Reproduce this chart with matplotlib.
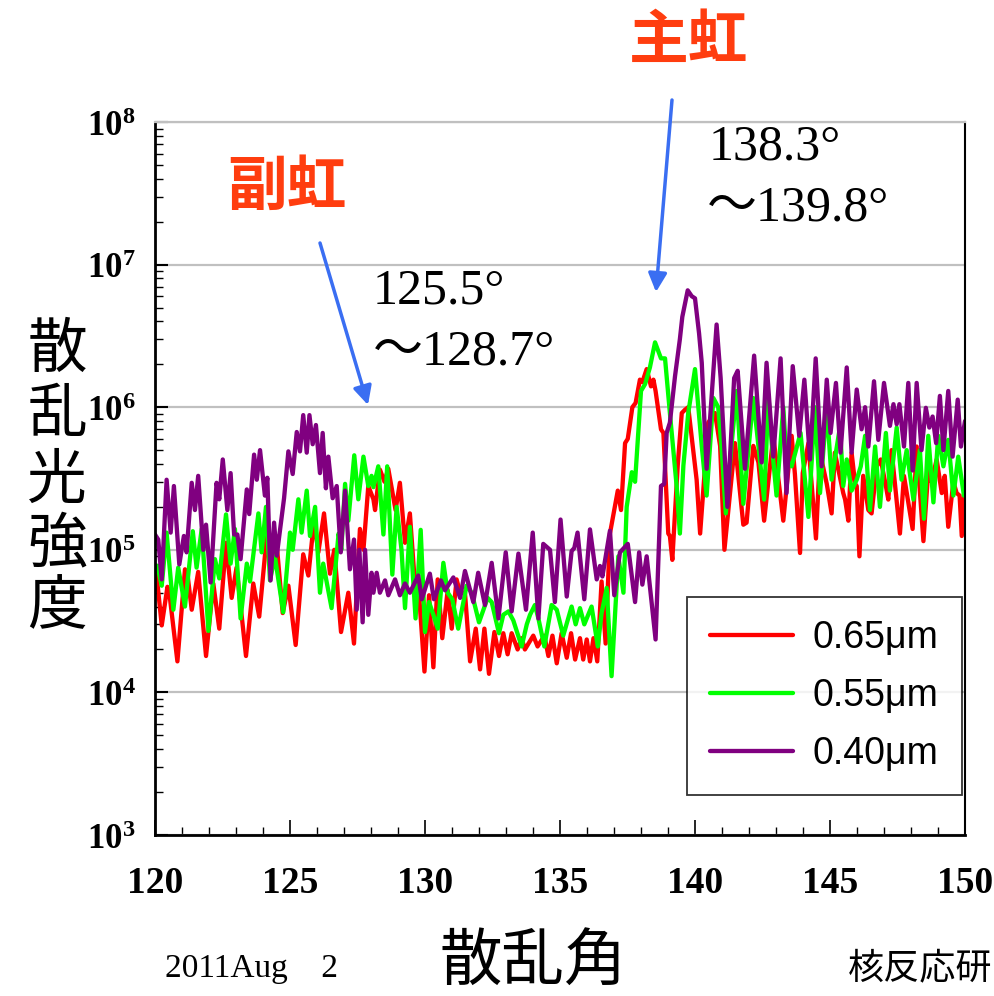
import matplotlib
matplotlib.use("Agg")
import matplotlib.pyplot as plt
from matplotlib.ticker import LogLocator, NullFormatter, MultipleLocator
from matplotlib.patches import FancyArrowPatch

plt.rcParams["mathtext.fontset"] = "custom"
plt.rcParams["mathtext.rm"] = "Liberation Serif"
plt.rcParams["mathtext.bf"] = "Liberation Serif:bold"

# ---- scattered intensity vs. scattering angle (deg) ----
angle_065 = [120.00, 120.06, 120.25, 120.46, 120.53, 120.83, 121.11, 121.20, 121.36, 121.60,
             121.89, 122.16, 122.38, 122.63, 122.84, 123.02, 123.37, 123.64, 123.86, 124.14,
             124.32, 124.48, 124.73, 124.94, 125.21, 125.49, 125.68, 125.89, 126.05, 126.26,
             126.48, 126.64, 126.89, 127.16, 127.37, 127.59, 127.72, 127.90, 128.09, 128.15,
             128.33, 128.50, 128.64, 128.91, 129.07, 129.26, 129.44, 129.63, 129.75, 129.98,
             130.15, 130.31, 130.47, 130.64, 130.84, 130.99, 131.17, 131.30, 131.48, 131.67,
             131.88, 132.04, 132.20, 132.37, 132.57, 132.74, 132.90, 133.06, 133.21, 133.43,
             133.58, 133.70, 134.01, 134.17, 134.42, 134.57, 134.72, 134.88, 135.06, 135.25,
             135.41, 135.56, 135.74, 135.86, 135.99, 136.11, 136.24, 136.38, 136.54, 136.69,
             136.85, 137.14, 137.26, 137.41, 137.51, 137.68, 137.80, 137.96, 138.05, 138.21,
             138.37, 138.46, 138.54, 138.74, 138.83, 139.01, 139.07, 139.16, 139.36, 139.51,
             139.63, 139.75, 140.06, 140.19, 140.49, 140.74, 140.93, 141.09, 141.48, 141.79,
             141.91, 142.16, 142.35, 142.56, 142.90, 143.27, 143.58, 143.70, 143.89, 143.99,
             144.20, 144.48, 144.63, 144.88, 145.06, 145.18, 145.49, 145.56, 145.68, 145.80,
             145.93, 145.99, 146.09, 146.23, 146.42, 146.54, 146.73, 146.88, 147.07, 147.16,
             147.28, 147.59, 147.74, 148.06, 148.21, 148.46, 148.64, 148.76, 148.95, 149.14,
             149.25, 149.38, 149.57, 149.69, 149.80, 149.88, 150.00]
inten_065 = [7.1e4, 6.6e4, 2.95e4, 5.5e4, 5.0e4, 1.65e4, 7.3e4, 6.8e4, 3.8e4, 7.0e4,
             1.8e4, 5.8e4, 2.8e4, 1.12e5, 4.6e4, 7.5e4, 1.8e4, 5.8e4, 3.4e4, 1.25e5,
             8.6e4, 1.25e5, 3.6e4, 5.6e4, 2.15e4, 9.3e4, 6.6e4, 1.6e5, 9.6e4, 1.8e5,
             6.8e4, 1.0e5, 2.65e4, 5.0e4, 2.2e4, 1.4e5, 1.0e5, 2.8e5, 2.26e5, 1.9e5,
             3.65e5, 3.0e5, 3.7e5, 1.9e5, 2.95e5, 1.12e5, 1.8e5, 5.6e4, 5.9e4, 1.4e4,
             4.8e4, 1.5e4, 6.2e4, 2.4e4, 5.2e4, 2.8e4, 6.2e4, 5.0e4, 5.0e4, 1.65e4,
             2.8e4, 1.45e4, 2.8e4, 1.35e4, 2.65e4, 1.8e4, 2.6e4, 1.85e4, 2.6e4, 2.0e4,
             2.4e4, 2.0e4, 2.5e4, 2.1e4, 2.5e4, 1.8e4, 2.5e4, 1.6e4, 2.6e4, 1.75e4,
             2.6e4, 1.7e4, 2.4e4, 1.7e4, 2.35e4, 1.65e4, 2.4e4, 1.65e4, 6.0e4, 2.2e4,
             1.3e5, 2.6e5, 1.9e5, 5.6e5, 6.0e5, 1.0e6, 1.07e6, 1.56e6, 1.5e6, 1.85e6,
             1.4e6, 1.56e6, 1.3e6, 7.0e5, 6.6e5, 1.3e5, 1.25e5, 8.5e4, 3.9e5, 9.1e5,
             9.6e5, 1.0e6, 3.1e5, 1.3e5, 7.8e5, 9.1e5, 5.35e5, 1.0e5, 5.6e5, 1.5e5,
             1.55e5, 5.35e5, 4.1e5, 1.6e5, 6.3e5, 1.6e5, 6.3e5, 3.4e5, 9.5e4, 3.45e5,
             5.6e5, 1.2e5, 4.8e5, 2.9e5, 1.8e5, 4.8e5, 2.5e5, 2.25e5, 1.6e5, 4.8e5,
             2.9e5, 2.8e5, 9.0e4, 3.3e5, 1.9e5, 1.8e5, 3.85e5, 4.3e5, 2.8e5, 2.25e5,
             5.0e5, 1.3e5, 3.3e5, 1.4e5, 5.3e5, 1.15e5, 3.6e5, 3.0e5, 4.3e5, 2.5e5,
             3.3e5, 1.45e5, 3.0e5, 2.5e5, 2.4e5, 1.25e5, 3.0e5]

angle_055 = [120.00, 120.09, 120.25, 120.43, 120.68, 120.86, 121.11, 121.40, 121.54, 121.73,
             121.98, 122.22, 122.38, 122.63, 122.80, 122.96, 123.17, 123.40, 123.52, 123.83,
             123.95, 124.11, 124.26, 124.44, 124.75, 125.00, 125.10, 125.31, 125.43, 125.62,
             125.74, 125.93, 126.11, 126.23, 126.54, 126.80, 126.90, 127.04, 127.16, 127.38,
             127.53, 127.72, 127.90, 128.02, 128.09, 128.27, 128.46, 128.60, 128.79, 128.95,
             129.13, 129.26, 129.44, 129.65, 129.84, 130.00, 130.15, 130.31, 130.47, 130.68,
             130.84, 131.01, 131.23, 131.54, 131.73, 132.00, 132.32, 132.47, 132.74, 132.90,
             133.09, 133.27, 133.58, 133.77, 133.89, 134.07, 134.20, 134.42, 134.69, 134.88,
             135.12, 135.43, 135.58, 135.74, 135.90, 136.17, 136.40, 136.54, 136.73, 136.91,
             137.16, 137.35, 137.47, 137.66, 137.78, 138.00, 138.15, 138.33, 138.52, 138.74,
             138.89, 139.07, 139.32, 139.44, 139.57, 139.75, 140.00, 140.25, 140.43, 140.68,
             140.86, 140.99, 141.14, 141.36, 141.54, 141.79, 142.16, 142.56, 142.72, 142.84,
             143.02, 143.27, 143.39, 143.58, 143.91, 144.20, 144.44, 144.63, 144.88, 145.06,
             145.37, 145.49, 145.62, 145.80, 145.99, 146.14, 146.30, 146.48, 146.67, 146.85,
             147.07, 147.22, 147.47, 147.65, 147.84, 148.09, 148.33, 148.48, 148.64, 148.83,
             149.01, 149.20, 149.38, 149.57, 149.75, 149.96, 150.00]
inten_055 = [7.3e4, 7.7e4, 5.6e4, 1.32e5, 3.8e4, 7.5e4, 4.0e4, 1.35e5, 7.5e4, 1.4e5,
             2.7e4, 8.6e4, 6.3e4, 1.77e5, 8.0e4, 1.4e5, 3.3e4, 8.0e4, 6.0e4, 1.8e5,
             9.6e4, 2.0e5, 6.1e4, 9.0e4, 3.65e4, 1.32e5, 1.0e5, 2.26e5, 1.32e5, 2.6e5,
             1.25e5, 2.0e5, 5.0e4, 8.0e4, 3.9e4, 1.3e5, 1.0e5, 2.9e5, 1.6e5, 4.6e5,
             2.26e5, 4.5e5, 2.8e5, 3.3e5, 2.75e5, 3.85e5, 1.28e5, 3.85e5, 6.7e4, 2.0e5,
             1.0e5, 3.9e4, 1.45e5, 3.3e4, 1.38e5, 2.65e4, 4.3e4, 3.5e4, 2.8e4, 8.1e4,
             5.0e4, 4.5e4, 2.8e4, 5.6e4, 5.0e4, 3.1e4, 4.6e4, 4.3e4, 2.6e4, 3.5e4,
             3.7e4, 3.2e4, 2.1e4, 3.0e4, 3.5e4, 4.1e4, 3.3e4, 2.1e4, 4.1e4, 3.8e4,
             2.5e4, 4.0e4, 3.0e4, 3.9e4, 3.0e4, 4.0e4, 2.1e4, 3.6e4, 5.4e4, 1.3e4,
             9.0e4, 5.0e4, 2.0e5, 3.5e5, 3.0e5, 1.3e6, 1.45e6, 1.9e6, 2.85e6, 2.2e6,
             2.2e6, 9.1e5, 2.8e5, 1.3e5, 3.9e5, 9.1e5, 1.85e6, 5.35e5, 2.4e5, 1.16e6,
             1.0e6, 5.0e5, 1.8e5, 5.6e5, 1.3e6, 2.1e5, 1.16e6, 2.25e5, 1.2e6, 5.6e5,
             2.4e5, 1.0e6, 4.3e5, 3.85e5, 6.6e5, 1.7e5, 1.0e6, 2.5e5, 1.0e6, 3.1e5,
             7.3e5, 2.8e5, 4.3e5, 2.6e5, 3.1e5, 3.85e5, 6.3e5, 1.9e5, 5.3e5, 2.0e5,
             6.6e5, 2.6e5, 7.2e5, 3.1e5, 5.0e5, 2.25e5, 5.0e5, 1.65e5, 6.3e5, 2.15e5,
             6.3e5, 3.85e5, 5.9e5, 2.4e5, 4.5e5, 2.4e5, 2.6e5]

angle_040 = [120.00, 120.12, 120.25, 120.43, 120.58, 120.70, 120.90, 121.07, 121.17, 121.36,
             121.48, 121.60, 121.79, 121.89, 122.06, 122.28, 122.38, 122.51, 122.68, 122.80,
             122.93, 123.05, 123.17, 123.40, 123.49, 123.67, 123.77, 123.89, 124.07, 124.16,
             124.28, 124.41, 124.51, 124.78, 124.94, 125.10, 125.25, 125.37, 125.49, 125.62,
             125.72, 125.84, 125.96, 126.11, 126.21, 126.33, 126.42, 126.58, 126.73, 126.88,
             127.04, 127.22, 127.37, 127.47, 127.57, 127.69, 127.78, 127.90, 128.02, 128.09,
             128.21, 128.33, 128.52, 128.64, 128.89, 129.07, 129.26, 129.44, 129.75, 129.88,
             130.18, 130.33, 130.59, 130.74, 131.05, 131.30, 131.48, 131.79, 131.97, 132.22,
             132.47, 132.72, 132.99, 133.21, 133.46, 133.74, 133.99, 134.20, 134.38, 134.63,
             134.81, 135.02, 135.25, 135.43, 135.53, 135.65, 135.90, 136.11, 136.36, 136.48,
             136.57, 136.85, 137.01, 137.22, 137.51, 137.78, 137.93, 138.05, 138.21, 138.54,
             138.74, 138.86, 138.95, 139.07, 139.26, 139.44, 139.53, 139.73, 139.88, 140.00,
             140.15, 140.25, 140.43, 140.80, 140.95, 141.20, 141.45, 141.58, 141.85, 142.19,
             142.47, 142.65, 142.90, 143.17, 143.39, 143.62, 143.86, 144.05, 144.26, 144.47,
             144.69, 144.88, 145.02, 145.22, 145.39, 145.62, 145.80, 145.99, 146.17, 146.30,
             146.42, 146.63, 146.79, 147.00, 147.22, 147.35, 147.47, 147.57, 147.74, 147.90,
             148.06, 148.21, 148.39, 148.55, 148.68, 148.80, 148.93, 149.07, 149.20, 149.38,
             149.54, 149.73, 149.85, 150.00]
inten_040 = [1.28e5, 1.18e5, 6.2e4, 3.1e5, 1.32e5, 2.8e5, 7.9e4, 1.25e5, 9.6e4, 2.95e5,
             1.9e5, 3.3e5, 1.0e5, 1.5e5, 5.9e4, 2.95e5, 2.26e5, 4.3e5, 1.9e5, 3.45e5,
             1.28e5, 1.28e5, 8.6e4, 2.65e5, 1.78e5, 4.65e5, 3.1e5, 5.0e5, 2.4e5, 3.2e5,
             6.1e4, 1.55e5, 9.1e4, 2.3e5, 4.9e5, 3.4e5, 6.7e5, 4.9e5, 8.8e5, 4.8e5,
             8.8e5, 5.5e5, 7.5e5, 3.45e5, 6.6e5, 2.7e5, 4.5e5, 2.3e5, 2.8e5, 9.6e4,
             2.6e5, 7.3e4, 1.18e5, 3.8e4, 1.0e5, 3.1e4, 1.0e5, 3.5e4, 6.9e4, 5.0e4,
             6.9e4, 5.0e4, 6.1e4, 4.8e4, 6.2e4, 4.8e4, 5.8e4, 5.0e4, 6.6e4, 4.5e4,
             6.8e4, 4.5e4, 6.1e4, 5.2e4, 6.4e4, 4.6e4, 7.1e4, 4.3e4, 6.9e4, 4.1e4,
             8.1e4, 3.3e4, 9.6e4, 3.7e4, 9.4e4, 3.8e4, 1.32e5, 3.3e4, 1.1e5, 1.0e5,
             4.3e4, 1.63e5, 4.7e4, 9.8e4, 1.03e5, 1.32e5, 4.5e4, 1.39e5, 6.2e4, 7.7e4,
             6.5e4, 1.36e5, 4.8e4, 9.6e4, 1.1e5, 4.3e4, 9.6e4, 5.7e4, 9.0e4, 2.35e4,
             2.8e5, 2.9e5, 6.6e5, 7.8e5, 1.65e6, 3.0e6, 4.3e6, 6.6e6, 6.0e6, 5.8e6,
             3.3e6, 2.05e6, 3.7e5, 3.8e6, 1.6e6, 2.0e5, 1.6e6, 1.8e6, 3.7e5, 2.3e6,
             4.1e5, 2.05e6, 4.5e5, 2.2e6, 2.5e5, 1.94e6, 6.3e5, 1.56e6, 4.3e5, 2.2e6,
             3.85e5, 1.56e6, 6.6e5, 1.48e6, 4.8e5, 1.9e6, 4.8e5, 1.33e6, 7.0e5, 1.0e6,
             5.3e5, 1.52e6, 5.9e5, 1.48e6, 7.4e5, 1.05e6, 7.6e5, 1.05e6, 5.3e5, 1.48e6,
             3.6e5, 1.48e6, 5.0e5, 9.9e5, 7.2e5, 8.6e5, 5.6e5, 1.2e6, 5.0e5, 1.3e6,
             4.5e5, 1.13e6, 5.3e5, 8.0e5]

series_labels = ["0.65\u03bcm", "0.55\u03bcm", "0.40\u03bcm"]
series_colors = ["#FF0000", "#00FF00", "#800080"]

x_ticks = [120, 125, 130, 135, 140, 145, 150]
y_ticks = [1e3, 1e4, 1e5, 1e6, 1e7, 1e8]
y_tick_labels = [r"$\mathbf{10^{%d}}$" % e for e in range(3, 9)]

W, H = 994, 996


def fx(px):
    return px / W


def fy(py):
    return 1 - py / H


fig = plt.figure(figsize=(W / 100, H / 100), dpi=100)
ax = fig.add_axes([fx(155), fy(835), (965 - 155) / W, (835 - 122) / H])

for ang, val, col, lab in zip([angle_065, angle_055, angle_040],
                              [inten_065, inten_055, inten_040],
                              series_colors, series_labels):
    ax.plot(ang, val, color=col, lw=3.1, label=lab,
            solid_joinstyle="round", solid_capstyle="round")

ax.set_yscale("log")
ax.set_xlim(120, 150)
ax.set_ylim(1e3, 1e8)

ax.set_xticks(x_ticks)
ax.set_xticklabels([str(t) for t in x_ticks], fontfamily="Liberation Serif",
                   fontweight="bold", fontsize=27)
ax.xaxis.set_minor_locator(MultipleLocator(1))
ax.set_yticks(y_ticks)
ax.set_yticklabels(y_tick_labels, fontsize=25)
ax.yaxis.set_minor_locator(LogLocator(base=10, subs=range(2, 10), numticks=20))
ax.yaxis.set_minor_formatter(NullFormatter())

ax.tick_params(axis="x", which="major", direction="in", length=11, width=1.2,
               pad=22, top=False)
ax.tick_params(axis="x", which="minor", direction="in", length=6, width=1.0, top=False)
ax.tick_params(axis="y", which="major", direction="in", length=9, width=1.5,
               pad=14, right=False)
ax.tick_params(axis="y", which="minor", direction="in", length=6, width=1.0, right=False)

ax.grid(True, which="major", axis="y", color="#C0C0C0", lw=1.6)
ax.set_axisbelow(True)

for side in ["left", "bottom"]:
    ax.spines[side].set_linewidth(2.0)
    ax.spines[side].set_color("black")
ax.spines["right"].set_linewidth(1.5)
ax.spines["right"].set_color("black")
ax.spines["top"].set_linewidth(1.6)
ax.spines["top"].set_color("#C0C0C0")

leg = ax.legend(loc="lower right", bbox_to_anchor=(0.996, 0.056), borderaxespad=0,
                frameon=True, fancybox=False, edgecolor="black",
                prop={"family": "Liberation Sans", "size": 27},
                handlelength=2.2, handletextpad=0.53, labelspacing=0.58,
                borderpad=0.62)
leg.get_frame().set_linewidth(1.3)

# vertical axis title, one character per row
ylabel_chars = "散乱光強度"
ylabel_rows = [350, 416, 481, 545, 608]
for ch, py in zip(ylabel_chars, ylabel_rows):
    fig.text(fx(57), fy(py), ch, fontfamily="Noto Sans CJK JP", fontsize=43,
             ha="center", va="center")

fig.text(fx(533), fy(963), "散乱角", fontfamily="Noto Sans CJK JP", fontsize=45,
         ha="center", va="center")
fig.text(fx(165), fy(969), "2011Aug    2", fontfamily="Liberation Serif", fontsize=24,
         ha="left", va="center")
fig.text(fx(920), fy(968), "核反応研", fontfamily="Noto Sans CJK JP", fontsize=26,
         ha="center", va="center")

rainbow_color = "#FF3D0F"
fig.text(fx(689), fy(42), "主虹", fontfamily="Noto Sans CJK JP", fontweight="bold",
         fontsize=43, color=rainbow_color, ha="center", va="center")
fig.text(fx(287), fy(188), "副虹", fontfamily="Noto Sans CJK JP", fontweight="bold",
         fontsize=43, color=rainbow_color, ha="center", va="center")

range_font = ["Liberation Serif", "Noto Sans CJK JP"]
fig.text(fx(709), fy(147), "138.3°", fontfamily=range_font, fontsize=36,
         ha="left", va="center")
fig.text(fx(707), fy(208), "～139.8°", fontfamily=range_font, fontsize=36,
         ha="left", va="center")
fig.text(fx(373), fy(291), "125.5°", fontfamily=range_font, fontsize=36,
         ha="left", va="center")
fig.text(fx(373), fy(352), "～128.7°", fontfamily=range_font, fontsize=36,
         ha="left", va="center")

arrow_color = "#3A6EF2"
for (x0, y0), (x1, y1) in [((320, 243), (368, 405)), ((672, 100), (656, 292))]:
    fig.add_artist(FancyArrowPatch((fx(x0), fy(y0)), (fx(x1), fy(y1)),
                                   transform=fig.transFigure, arrowstyle="-|>",
                                   mutation_scale=28, color=arrow_color, lw=2.5,
                                   shrinkA=0, shrinkB=0))

fig.savefig("out.png", dpi=100)
